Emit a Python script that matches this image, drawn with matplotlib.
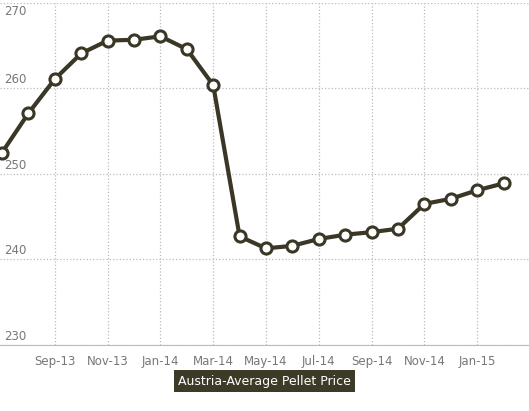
import matplotlib
matplotlib.use("Agg")
import matplotlib.pyplot as plt

months = ["Jul-13", "Aug-13", "Sep-13", "Oct-13", "Nov-13", "Dec-13", "Jan-14", "Feb-14",
          "Mar-14", "Apr-14", "May-14", "Jun-14", "Jul-14", "Aug-14", "Sep-14", "Oct-14",
          "Nov-14", "Dec-14", "Jan-15", "Feb-15"]
price = [252.5, 257.1, 261.1, 264.1, 265.6, 265.7, 266.1, 264.6, 260.4, 242.7,
         241.3, 241.6, 242.4, 242.9, 243.2, 243.6, 246.5, 247.1, 248.1, 248.9]

FONT = ["Liberation Sans Narrow", "DejaVu Sans"]
LINE = "#3b3727"

fig = plt.figure(figsize=(5.29, 4.11), dpi=100)
ax = fig.add_axes([0, 1 - 345 / 411, 1, 342 / 411])
x = list(range(len(months)))
ax.plot(x, price, color=LINE, lw=3, marker="o", ms=8, mfc="white", mec=LINE, mew=2.2,
        zorder=3, clip_on=False)

ax.set_xlim(-2 / 26.4, 527 / 26.4)
ax.set_ylim(230, 270)
ticks = x[2::2]
ax.set_xticks(ticks)
ax.set_xticklabels([months[i] for i in ticks], family=FONT, fontsize=8.5, color="#777777")
ax.set_yticks([230, 240, 250, 260, 270])
ax.set_yticklabels([])
for v in [230, 240, 250, 260]:
    ax.text(0.008, v + 0.25, str(v), transform=ax.get_yaxis_transform(), family=FONT,
            fontsize=8.5, color="#777777", va="bottom", ha="left")
ax.text(0.008, 269.8, "270", transform=ax.get_yaxis_transform(), family=FONT,
        fontsize=8.5, color="#777777", va="top", ha="left")
ax.grid(True, color="#bbbbbb", ls=":", lw=0.9)
ax.tick_params(length=0, pad=7)
for s in ["top", "left", "right"]:
    ax.spines[s].set_visible(False)
ax.spines["bottom"].set_color("#bbbbbb")

fig.text(0.5, 1 - 381 / 411, "Austria-Average Pellet Price", family=FONT, fontsize=9,
         color="white", ha="center", va="center",
         bbox=dict(boxstyle="square,pad=0.35", fc="#3d3a28", ec="none"))

fig.savefig("out.png", dpi=100)
